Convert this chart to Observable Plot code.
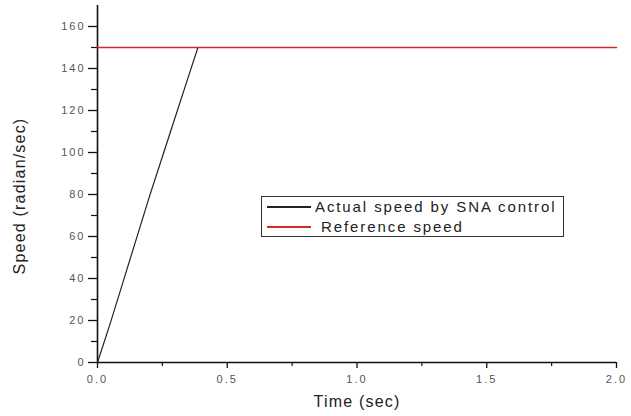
<!DOCTYPE html>
<html>
<head>
<meta charset="utf-8">
<script src="https://cdn.jsdelivr.net/npm/d3@7"></script>
<script src="https://cdn.jsdelivr.net/npm/@observablehq/plot@0.6"></script>
<style>
  html, body { margin: 0; padding: 0; background: #fff; }
  #wrap { position: relative; width: 631px; height: 416px; font-family: "Liberation Sans", Arial, sans-serif; }
  #wrap svg { letter-spacing: 2px; }
  #wrap svg g[aria-label="text"] text { letter-spacing: 1.2px; }
  #legend { position: absolute; left: 261px; top: 196px; width: 301px; height: 39px; border: 1.3px solid #333; background: #fff; font-size: 15px; letter-spacing: 1.9px; color: #222; }
  .row { position: absolute; left: 5px; display: flex; align-items: center; line-height: 18px; }
  .sw { width: 44px; height: 2px; margin-right: 4px; }
</style>
</head>
<body>
<div id="wrap"></div>
<script>
const timeActual = [0, 0.05, 0.1, 0.15, 0.2, 0.25, 0.3, 0.35, 0.387, 0.6, 1.0, 1.5, 2.0];
const speedActual = [0, 19, 39, 59, 79, 98, 117, 136, 150, 150, 150, 150, 150];
const timeRef = [0, 2.0];
const speedRef = [150, 150];
const xMajor = [0, 0.5, 1.0, 1.5, 2.0];
const xMinor = [0.25, 0.75, 1.25, 1.75];
const yMajor = [0, 20, 40, 60, 80, 100, 120, 140, 160];
const yMinor = [10, 30, 50, 70, 90, 110, 130, 150];
const seriesNames = ["Actual speed by SNA control", "Reference speed"];
const seriesColors = ["#222222", "#d42a2a"];

const actual = timeActual.map((t, i) => ({t, v: speedActual[i]}));
const ref = timeRef.map((t, i) => ({t, v: speedRef[i]}));

const chart = Plot.plot({
  width: 631,
  height: 416,
  marginLeft: 97,
  marginRight: 15,
  marginTop: 5,
  marginBottom: 54,
  style: {fontFamily: "Liberation Sans, Arial, sans-serif", fontSize: "11px", color: "#333", background: "#fff"},
  x: {domain: [0, 2]},
  y: {domain: [0, 170]},
  marks: [
    Plot.axisX(xMajor, {tickSize: 6, tickPadding: 7, tickFormat: d3.format(".1f"), label: null, stroke: "#111", strokeWidth: 1.3, fontSize: 11, fill: "#555"}),
    Plot.axisX(xMinor, {tickSize: 4, tickFormat: () => "", label: null, stroke: "#111", strokeWidth: 1.2}),
    Plot.axisY(yMajor, {tickSize: 9, tickPadding: 3, label: null, stroke: "#111", strokeWidth: 1.3, fontSize: 11, fill: "#555"}),
    Plot.axisY(yMinor, {tickSize: 6, tickFormat: () => "", label: null, stroke: "#111", strokeWidth: 1.2}),
    Plot.ruleX([0], {stroke: "#111", strokeWidth: 1.6}),
    Plot.ruleY([0], {stroke: "#111", strokeWidth: 1.6}),
    Plot.line(actual, {x: "t", y: "v", stroke: seriesColors[0], strokeWidth: 1.2}),
    Plot.line(ref, {x: "t", y: "v", stroke: seriesColors[1], strokeWidth: 1.6}),
    Plot.text(["Time (sec)"], {frameAnchor: "bottom", dy: 44, fontSize: 16, fill: "#222"}),
    Plot.text(["Speed (radian/sec)"], {frameAnchor: "left", dx: -78, dy: 12, rotate: -90, textAnchor: "middle", fontSize: 16, fill: "#222"})
  ]
});

const wrap = document.getElementById("wrap");
wrap.appendChild(chart);

const legend = document.createElement("div");
legend.id = "legend";
seriesNames.forEach((name, i) => {
  const row = document.createElement("div");
  row.className = "row";
  row.style.top = (i === 0 ? 1 : 21) + "px";
  const sw = document.createElement("div");
  sw.className = "sw";
  sw.style.background = seriesColors[i];
  sw.style.height = (i === 0 ? 1.5 : 2) + "px";
  const txt = document.createElement("span");
  txt.textContent = (i === 1 ? "\u00a0" : "") + name;
  row.appendChild(sw);
  row.appendChild(txt);
  legend.appendChild(row);
});
wrap.appendChild(legend);
</script>
</body>
</html>
